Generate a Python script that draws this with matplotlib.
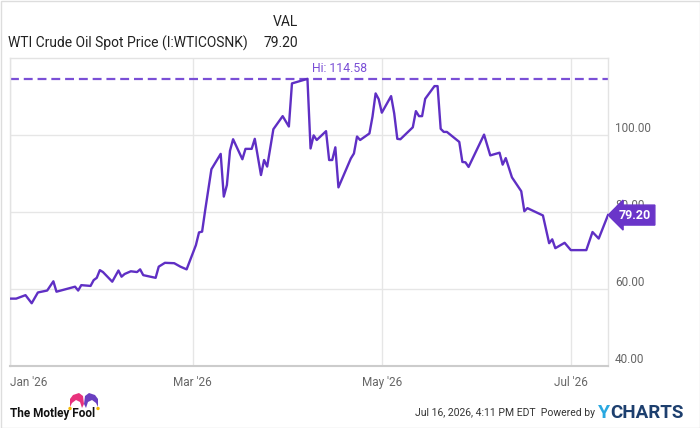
import matplotlib.pyplot as plt
import matplotlib.dates as mdates
import numpy as np
from matplotlib.patches import Polygon, Circle
from matplotlib.transforms import IdentityTransform

plt.rcParams['font.family'] = ['Roboto', 'DejaVu Sans']

# WTI spot price, vertices
dates = [
    "2026-01-01", "2026-01-03", "2026-01-06", "2026-01-08", "2026-01-10", "2026-01-13",
    "2026-01-15", "2026-01-16", "2026-01-22", "2026-01-23", "2026-01-24", "2026-01-27",
    "2026-01-28", "2026-01-29", "2026-01-30", "2026-01-31", "2026-02-03", "2026-02-05",
    "2026-02-06", "2026-02-07", "2026-02-09", "2026-02-11", "2026-02-12", "2026-02-13",
    "2026-02-17", "2026-02-18", "2026-02-20", "2026-02-23", "2026-02-25", "2026-02-27",
    "2026-03-02", "2026-03-03", "2026-03-04", "2026-03-05", "2026-03-07", "2026-03-10",
    "2026-03-11", "2026-03-12", "2026-03-13", "2026-03-14", "2026-03-17", "2026-03-18",
    "2026-03-20", "2026-03-21", "2026-03-23", "2026-03-24", "2026-03-25", "2026-03-27",
    "2026-03-30", "2026-04-01", "2026-04-02", "2026-04-07", "2026-04-08", "2026-04-09",
    "2026-04-10", "2026-04-13", "2026-04-14", "2026-04-15", "2026-04-16", "2026-04-17",
    "2026-04-21", "2026-04-22", "2026-04-23", "2026-04-24", "2026-04-27", "2026-04-28",
    "2026-04-29", "2026-04-30", "2026-05-01", "2026-05-04", "2026-05-05", "2026-05-06",
    "2026-05-07", "2026-05-11", "2026-05-12", "2026-05-13", "2026-05-14", "2026-05-15",
    "2026-05-18", "2026-05-19", "2026-05-20", "2026-05-21", "2026-05-22", "2026-05-26",
    "2026-05-27", "2026-05-28", "2026-05-29", "2026-06-03", "2026-06-05", "2026-06-08",
    "2026-06-09", "2026-06-10", "2026-06-12", "2026-06-15", "2026-06-16", "2026-06-17",
    "2026-06-22", "2026-06-24", "2026-06-25", "2026-06-26", "2026-06-29", "2026-07-01",
    "2026-07-06", "2026-07-08", "2026-07-10", "2026-07-13",
]
prices = [
    57.5, 57.5, 58.4, 56.3, 59.1, 59.6,
    62.0, 59.3, 60.6, 59.6, 61.0, 60.8,
    62.3, 62.9, 64.9, 64.4, 61.9, 64.8,
    63.2, 63.9, 64.6, 64.4, 65.1, 63.6,
    62.9, 65.8, 66.8, 66.7, 65.8, 65.1,
    71.4, 74.7, 74.9, 80.5, 91.1, 95.1,
    84.0, 87.0, 95.9, 98.9, 93.7, 96.4,
    96.4, 99.0, 89.6, 93.5, 91.8, 101.5,
    104.9, 102.2, 113.4, 114.58, 96.5, 99.9,
    98.7, 101.0, 93.5, 93.5, 96.8, 86.4,
    93.9, 95.2, 99.6, 98.7, 100.4, 104.8,
    110.8, 109.3, 105.8, 110.1, 105.6, 99.0,
    98.9, 102.0, 106.2, 104.9, 104.9, 109.4,
    112.7, 112.7, 101.6, 100.8, 100.8, 98.2,
    93.0, 92.9, 91.7, 100.1, 94.7, 95.4,
    92.3, 94.0, 89.0, 85.4, 80.2, 81.0,
    79.1, 71.9, 72.9, 70.6, 72.0, 70.1,
    70.1, 74.8, 73.1, 79.2,
]
y_ticks = [40, 60, 80, 100]
x_ticks = ["2026-01-01", "2026-03-01", "2026-05-01", "2026-07-01"]

title = "WTI Crude Oil Spot Price (I:WTICOSNK)"
stamp = "Jul 16, 2026, 4:11 PM EDT  Powered by"

line_col = "#5f2fc4"
hi_col = "#7a4fd6"
grid_col = "#e6e6e6"

W, H = 700, 428
fig = plt.figure(figsize=(7, 4.28), dpi=100)
ax = fig.add_axes([10 / W, 62 / H, 598 / W, 308 / H])

d = np.array(dates, dtype="datetime64[D]")
p = np.array(prices)

ax.plot(d, p, color=line_col, lw=1.7, solid_joinstyle="round", zorder=3)

# high water mark
i_hi = int(np.argmax(p))
ax.axhline(p[i_hi], color=hi_col, lw=1.6, ls=(0, (4.0, 2.2)), zorder=2)
ax.annotate(f"Hi: {p[i_hi]:.2f}", xy=(d[i_hi], p[i_hi]), xytext=(3, 3),
            textcoords="offset points", color=hi_col, fontsize=8.8, va="bottom")

# last value flag
ax.annotate(f"{p[-1]:.2f}", xy=(d[-1], p[-1]), xytext=(8, 0),
            textcoords="offset points", color="white", fontsize=9,
            fontweight="bold", va="center", ha="left", annotation_clip=False,
            bbox=dict(boxstyle="larrow,pad=0.28", fc="#6a35c9", ec="#6a35c9"),
            zorder=10)

ax.set_xlim(d[0], d[-1])
ax.set_ylim(40, 120)

ax.set_yticks(y_ticks)
ax.yaxis.set_major_formatter(plt.FormatStrFormatter("%.2f"))
ax.yaxis.tick_right()
ax.tick_params(axis="y", length=0, pad=5, labelsize=8.5, labelcolor="#666666")
for t in ax.yaxis.get_major_ticks():
    t.label2.set_verticalalignment("bottom")

ax.set_xticks(np.array(x_ticks, dtype="datetime64[D]"))
ax.xaxis.set_major_formatter(mdates.DateFormatter("%b '%y"))
ax.tick_params(axis="x", length=0, pad=7, labelsize=8.5, labelcolor="#666666")
ax.xaxis.get_major_ticks()[0].label1.set_horizontalalignment("left")

ax.grid(True, color=grid_col, lw=1)
ax.set_axisbelow(True)
for side in ["left", "top", "right"]:
    ax.spines[side].set_color("#e3e3e3")
    ax.spines[side].set_linewidth(1)
ax.spines["bottom"].set_color("#cccccc")
ax.spines["bottom"].set_linewidth(1.5)

# header
fig.text(8 / W, 1 - 43 / H, title, fontsize=10, color="#222222", va="center")
fig.text(298 / W, 1 - 43 / H, f"{p[-1]:.2f}", fontsize=10, color="#222222",
         va="center", ha="right")
fig.text(298 / W, 1 - 22 / H, "VAL", fontsize=10, color="#222222",
         va="center", ha="right")

# footer
fig.text(10 / W, 1 - 414 / H, "The Motley Fool", fontsize=8.5, fontweight="bold",
         color="#111111", va="center")
fig.text(595 / W, 1 - 413 / H, stamp, fontsize=7.5, color="#333333",
         va="center", ha="right")
fig.text(598 / W, 1 - 413 / H, "Y", fontsize=14, fontweight="bold",
         color="#29a8e0", va="center")
fig.text(610 / W, 1 - 413 / H, "CHARTS", fontsize=13.5, fontweight="bold",
         color="#1d3f6e", va="center")

# jester hat
def px(pts):
    return [(x, H - y) for x, y in pts]

pink = px([(70, 407), (70, 399), (73, 395), (79, 393), (83, 396), (84, 404),
           (82, 408), (80, 402), (76, 400), (72, 403)])
purple = px([(98, 407), (98, 399), (95, 395), (89, 393), (85, 396), (84, 404),
             (86, 408), (88, 402), (92, 400), (96, 403)])
fig.patches.append(Polygon(pink, closed=True, fc="#e8327c", ec="none",
                           transform=IdentityTransform(), figure=fig))
fig.patches.append(Polygon(purple, closed=True, fc="#6a3fc0", ec="none",
                           transform=IdentityTransform(), figure=fig))
for bx in (70, 98):
    fig.patches.append(Circle((bx, H - 408.5), 1.7, fc="#f2b705", ec="none",
                              transform=IdentityTransform(), figure=fig))

# light outer frame
fig.patches.append(plt.Rectangle((0.5, 0.5), W - 1, H - 1, fill=False,
                                 ec="#dddddd", lw=1, transform=IdentityTransform(),
                                 figure=fig))

fig.savefig("out.png", dpi=100)
